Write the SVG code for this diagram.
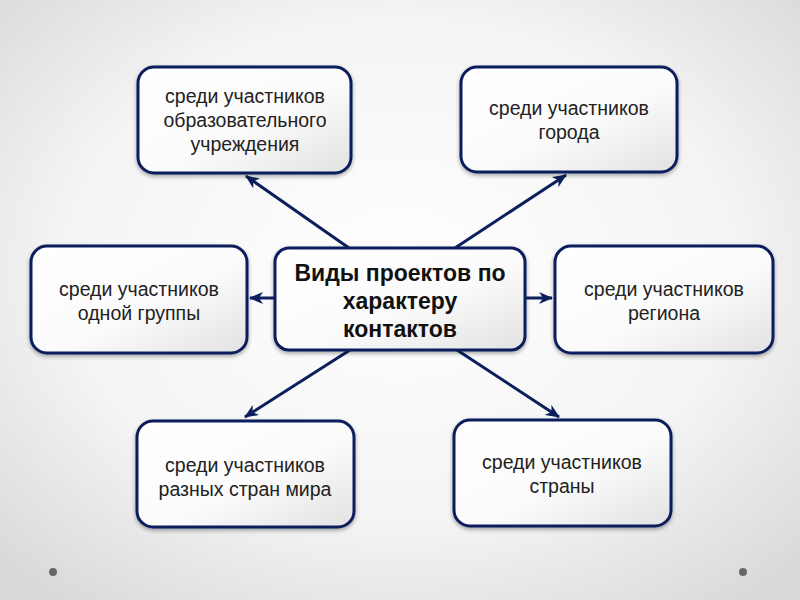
<svg xmlns="http://www.w3.org/2000/svg" width="800" height="600" viewBox="0 0 800 600">
<defs>
<radialGradient id="bg" cx="50%" cy="45%" r="70%">
<stop offset="0" stop-color="#ffffff"/>
<stop offset="0.6" stop-color="#f4f4f4"/>
<stop offset="1" stop-color="#d9d9d9"/>
</radialGradient>
<linearGradient id="nf" x1="0" y1="0" x2="1" y2="1">
<stop offset="0" stop-color="#ffffff"/>
<stop offset="0.55" stop-color="#fbfbfb"/>
<stop offset="1" stop-color="#e2e2e2"/>
</linearGradient>
<filter id="sh" x="-10%" y="-10%" width="120%" height="130%">
<feGaussianBlur in="SourceAlpha" stdDeviation="2"/>
<feOffset dx="0" dy="2" result="b"/>
<feComponentTransfer><feFuncA type="linear" slope="0.35"/></feComponentTransfer>
<feMerge><feMergeNode/><feMergeNode in="SourceGraphic"/></feMerge>
</filter>
<marker id="ah" viewBox="0 0 14 12" refX="13" refY="6" markerWidth="14" markerHeight="12" markerUnits="userSpaceOnUse" orient="auto">
<path d="M0,0 L14,6 L0,12 L4,6 Z" fill="#0b1f5c"/>
</marker>
</defs>
<style>
.node rect{fill:url(#nf);stroke:#0b1f5c;stroke-width:3;filter:url(#sh)}
.t{font-family:"Liberation Sans",Arial,sans-serif;font-size:19.5px;fill:#222;text-anchor:middle}
.c{font-family:"Liberation Sans",Arial,sans-serif;font-size:23px;font-weight:bold;fill:#111;text-anchor:middle}
.conn line{stroke:#0b1f5c;stroke-width:3;marker-end:url(#ah)}
</style>
<rect width="800" height="600" fill="url(#bg)"/>
<circle cx="53" cy="572" r="4" fill="#666"/>
<circle cx="743" cy="572" r="4" fill="#666"/>
<g id="connectors" class="conn">
<line x1="349" y1="248" x2="246" y2="176"/>
<line x1="455" y1="248" x2="566" y2="175"/>
<line x1="275" y1="298" x2="250" y2="298"/>
<line x1="525" y1="298" x2="552" y2="298"/>
<line x1="350" y1="350" x2="245" y2="417"/>
<line x1="457" y1="350" x2="559" y2="417"/>
</g>
<g id="center" class="node">
<rect x="275" y="248" width="250" height="102" rx="14"/>
<text class="c" x="400" y="281">Виды проектов по</text>
<text class="c" x="400" y="309">характеру</text>
<text class="c" x="400" y="337">контактов</text>
</g>
<g id="n-school" class="node">
<rect x="138" y="67" width="213" height="106" rx="16"/>
<text class="t" x="245" y="103">среди участников</text>
<text class="t" x="245" y="127">образовательного</text>
<text class="t" x="245" y="151">учреждения</text>
</g>
<g id="n-city" class="node">
<rect x="461" y="67" width="216" height="105" rx="16"/>
<text class="t" x="569" y="115">среди участников</text>
<text class="t" x="569" y="139">города</text>
</g>
<g id="n-group" class="node">
<rect x="31" y="246" width="216" height="107" rx="16"/>
<text class="t" x="139" y="296">среди участников</text>
<text class="t" x="139" y="320">одной группы</text>
</g>
<g id="n-region" class="node">
<rect x="555" y="246" width="218" height="107" rx="16"/>
<text class="t" x="664" y="296">среди участников</text>
<text class="t" x="664" y="320">региона</text>
</g>
<g id="n-world" class="node">
<rect x="137" y="421" width="217" height="106" rx="16"/>
<text class="t" x="245" y="472">среди участников</text>
<text class="t" x="245" y="496">разных стран мира</text>
</g>
<g id="n-country" class="node">
<rect x="454" y="420" width="217" height="106" rx="16"/>
<text class="t" x="562" y="469">среди участников</text>
<text class="t" x="562" y="493">страны</text>
</g>
</svg>
